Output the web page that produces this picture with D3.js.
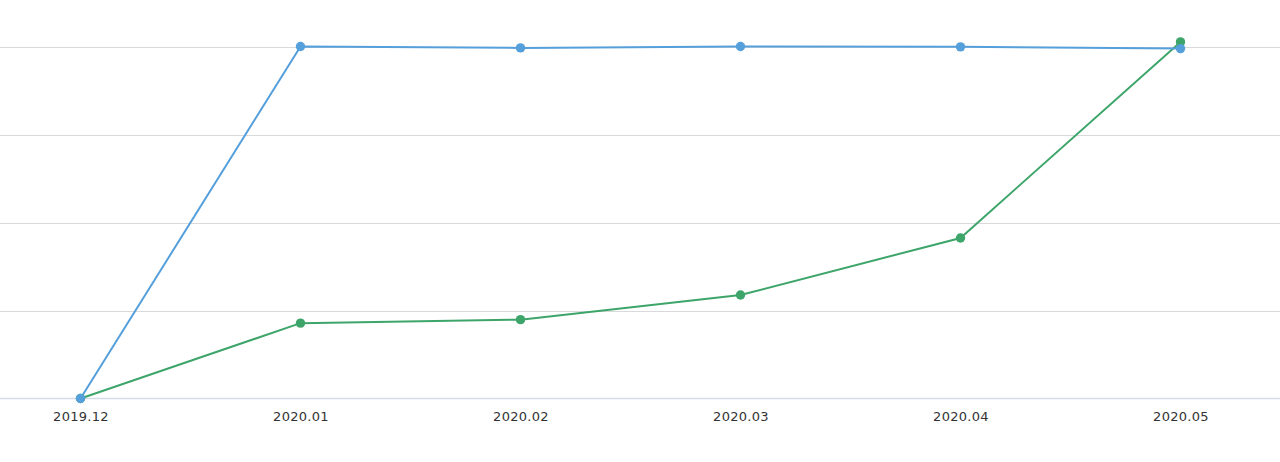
<!DOCTYPE html>
<html><head><meta charset="utf-8">
<script src="https://cdn.jsdelivr.net/npm/d3@7"></script>
<style>html,body{margin:0;padding:0;background:#fff;}svg{display:block;}</style>
</head><body>
<svg id="c" width="1280" height="462"></svg>
<script>
const categories = ["2019.12","2020.01","2020.02","2020.03","2020.04","2020.05"];
const blueValues = [0, 100, 99.6, 100, 99.9, 99.4];
const greenValues = [0, 21.4, 22.4, 29.4, 45.6, 101.3];
const yTicks = [0, 25, 50, 75, 100];

const svg = d3.select("#c");
const x = d3.scalePoint().domain(categories).range([80.5, 1180.5]);
const y = d3.scaleLinear().domain([0, 100]).range([398.5, 46.5]);

// grid
svg.append("g").selectAll("line").data(yTicks.filter(d => d > 0)).join("line")
  .attr("x1", 0).attr("x2", 1280)
  .attr("y1", d => Math.round(y(d)) + 0.5).attr("y2", d => Math.round(y(d)) + 0.5)
  .attr("stroke", "#d9d9d9").attr("stroke-width", 1.2);

// x axis
const xAxis = svg.append("g").attr("transform", `translate(0,${y(0)})`)
  .call(d3.axisBottom(x).tickSize(0).tickPadding(13));
xAxis.select(".domain").attr("d", "M0,0H1280").attr("stroke", "#d6dbe8").attr("stroke-width", 1.5);
xAxis.selectAll("text").attr("fill", "#333").style("font-size", "13px")
  .style("letter-spacing", "0.3px")
  .style("font-family", "'DejaVu Sans', sans-serif");

const series = [
  {values: greenValues, color: "#3ea56a"},
  {values: blueValues, color: "#559fdb"}
];
const line = d3.line().x((d, i) => x(categories[i])).y(d => y(d));
series.forEach(s => {
  svg.append("path").datum(s.values).attr("d", line)
    .attr("fill", "none").attr("stroke", s.color).attr("stroke-width", 2);
});
series.forEach(s => {
  svg.append("g").selectAll("circle").data(s.values).join("circle")
    .attr("cx", (d, i) => x(categories[i])).attr("cy", d => y(d))
    .attr("r", 4.7).attr("fill", s.color);
});
</script>
</body></html>
